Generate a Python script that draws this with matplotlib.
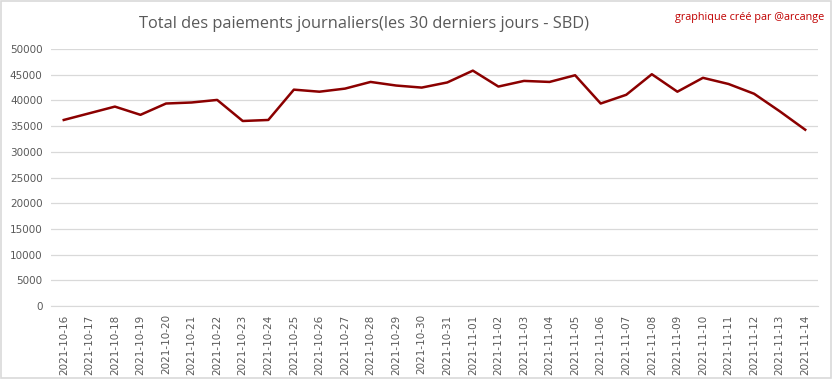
import matplotlib.pyplot as plt
from matplotlib.patches import Rectangle

# Daily payouts, last 30 days (SBD)
dates = ['2021-10-16', '2021-10-17', '2021-10-18', '2021-10-19', '2021-10-20',
         '2021-10-21', '2021-10-22', '2021-10-23', '2021-10-24', '2021-10-25',
         '2021-10-26', '2021-10-27', '2021-10-28', '2021-10-29', '2021-10-30',
         '2021-10-31', '2021-11-01', '2021-11-02', '2021-11-03', '2021-11-04',
         '2021-11-05', '2021-11-06', '2021-11-07', '2021-11-08', '2021-11-09',
         '2021-11-10', '2021-11-11', '2021-11-12', '2021-11-13', '2021-11-14']
payouts = [36200, 37500, 38800, 37200, 39400, 39600, 40100, 36000, 36200, 42100,
           41700, 42300, 43600, 42900, 42500, 43500, 45800, 42700, 43800, 43600,
           44900, 39400, 41100, 45100, 41700, 44400, 43200, 41300, 37900, 34300]
y_ticks = list(range(0, 50001, 5000))

gray = '#595959'

fig = plt.figure(figsize=(8.33, 3.79), dpi=100)
ax = fig.add_axes([0.0612, 0.1926, 0.9208, 0.678])

x = range(len(dates))
ax.plot(x, payouts, color='#8b0000', linewidth=1.8)

ax.set_xlim(-0.5, len(dates) - 0.5)
ax.set_ylim(0, 50000)
ax.set_yticks(y_ticks)
ax.set_yticklabels([str(v) for v in y_ticks], fontsize=7.5, color=gray)
ax.set_xticks(list(x))
ax.set_xticklabels(dates, rotation=90, fontsize=7.5, color=gray)
ax.tick_params(length=0, pad=6)

ax.grid(axis='y', color='#d9d9d9', linewidth=0.9)
ax.set_axisbelow(True)
for s in ['top', 'right', 'left']:
    ax.spines[s].set_visible(False)
ax.spines['bottom'].set_color('#d9d9d9')

fig.text(0.437, 0.937, 'Total des paiements journaliers(les 30 derniers jours - SBD)',
         ha='center', va='center', fontsize=11.8, color=gray, family='Open Sans')
fig.text(0.99, 0.955, 'graphique créé par @arcange', ha='right', va='center',
         fontsize=7.8, color='#c00000', family='Open Sans')

# light border around the chart
fig.patches.append(Rectangle((0.001, 0.002), 0.997, 0.995, transform=fig.transFigure,
                             fill=False, edgecolor='#d9d9d9', linewidth=1.2))

plt.savefig('out.png', dpi=100, facecolor='white')
plt.close()
